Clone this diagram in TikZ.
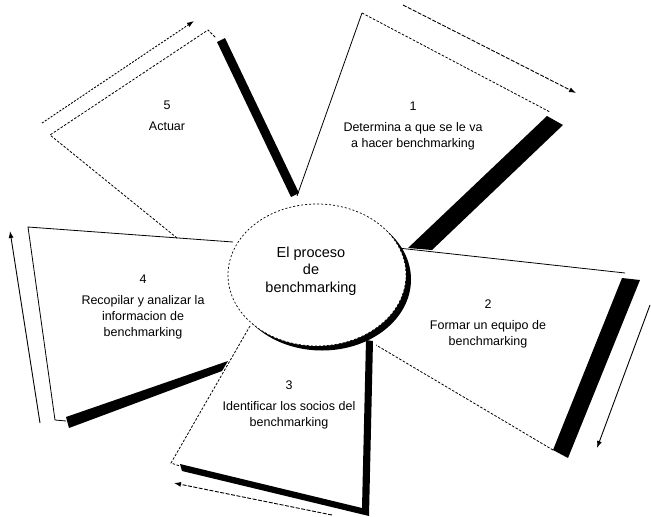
\documentclass[tikz,border=0pt]{standalone}
\usepackage{fontspec}
\setmainfont{Liberation Sans}
\usetikzlibrary{arrows.meta,shapes.geometric}

\begin{document}
\begin{tikzpicture}[x=1pt,y=-1pt,
  thinedge/.style={line width=0.8pt},
  dotedge/.style={line width=0.8pt, dash pattern=on 2.5pt off 1.6pt},
  barfill/.style={fill=black},
  flowarrow/.style={line width=0.9pt, -{Latex[length=7pt,width=5pt]}},
  steptext/.style={align=center, inner sep=0pt, font=\fontsize{12.5}{16}\selectfont},
  hubtext/.style={align=center, inner sep=0pt, font=\fontsize{14.5}{17.5}\selectfont},
]
\useasboundingbox (0,0) rectangle (651,517);

% ---- corner points of the five blades ----
\coordinate (b1in) at (297,196);
\coordinate (b1top) at (362,13);
\coordinate (b1out) at (550,112);
\coordinate (b2in) at (398,248);
\coordinate (b2top) at (625,273);
\coordinate (b2bot) at (553,450);
\coordinate (b2low) at (376,345);
\coordinate (b3in) at (250,326);
\coordinate (b3corner) at (171,463);
\coordinate (b3foot) at (180,466);
\coordinate (b4in) at (233,242);
\coordinate (b4top) at (28,227);
\coordinate (b4bot) at (55,420);
\coordinate (b4foot) at (66,421);
\coordinate (b5low) at (177,238);
\coordinate (b5left) at (50,135);
\coordinate (b5top) at (208,30);
\coordinate (b5tip) at (216,38);

% ---- arrow end points ----
\coordinate (a1s) at (403,5);    \coordinate (a1e) at (576,93);
\coordinate (a2s) at (650,305);  \coordinate (a2e) at (597,448);
\coordinate (a3s) at (332,515);  \coordinate (a3e) at (174,483);
\coordinate (a4s) at (40,423);   \coordinate (a4e) at (10,231);
\coordinate (a5s) at (42,123);   \coordinate (a5e) at (194,21);

% ---- thin outlines of the blades ----
\draw[thinedge] (b1in) -- (b1top);
\draw[dotedge] (b1top) -- (b1out);
\draw[thinedge] (b2in) -- (b2top);
\draw[dotedge] (b2bot) -- (b2low);
\draw[dotedge] (b3in) -- (b3corner) -- (b3foot);
\draw[thinedge] (b4in) -- (b4top) -- (b4bot) -- (b4foot);
\draw[dotedge] (b5low) -- (b5left) -- (b5top) -- (b5tip);

% ---- heavy shadow edges ----
\fill[barfill] (547,116) -- (563,125) -- (432,250) -- (408,248) -- cycle;
\fill[barfill] (622,278) -- (640,280) -- (568,458) -- (553,450) -- cycle;
\fill[barfill] (180,464) -- (362,508) -- (366,340) -- (373,341) -- (369,516) -- (182,471) -- cycle;
\fill[barfill] (66,417) -- (228,361) -- (222,371) -- (69,428) -- cycle;
\fill[barfill] (217,42) -- (225,38) -- (299,193) -- (291,197) -- cycle;

% ---- cycle arrows ----
\draw[flowarrow, dash pattern=on 4pt off 1.5pt] (a1s) -- (a1e);
\draw[flowarrow] (a2s) -- (a2e);
\draw[flowarrow, dash pattern=on 4pt off 1.5pt] (a3s) -- (a3e);
\draw[flowarrow] (a4s) -- (a4e);
\draw[flowarrow, dash pattern=on 2pt off 1.5pt] (a5s) -- (a5e);

% ---- central hub with its shadow ----
\node[ellipse, fill=black, inner sep=0pt, minimum width=178pt, minimum height=142pt] (hubshade) at (322,279.5) {};
\node[ellipse, fill=white, draw, line width=0.7pt, dash pattern=on 2pt off 2pt,
      inner sep=0pt, minimum width=178pt, minimum height=142pt] (hub) at (317,275) {};
\node[hubtext] (hubtxt) at (311,271) {El proceso\\de\\benchmarking};

% ---- step labels ----
\node[steptext] (s1) at (413,126) {1\\[5pt]Determina a que se le va\\a hacer benchmarking};
\node[steptext] (s2) at (488,324) {2\\[5pt]Formar un equipo de\\benchmarking};
\node[steptext] (s3) at (289,405) {3\\[5pt]Identificar los socios del\\benchmarking};
\node[steptext] (s4) at (143,307) {4\\[5pt]Recopilar y analizar la\\informacion de\\benchmarking};
\node[steptext] (s5) at (167,116) {5\\[5pt]Actuar};
\end{tikzpicture}
\end{document}
